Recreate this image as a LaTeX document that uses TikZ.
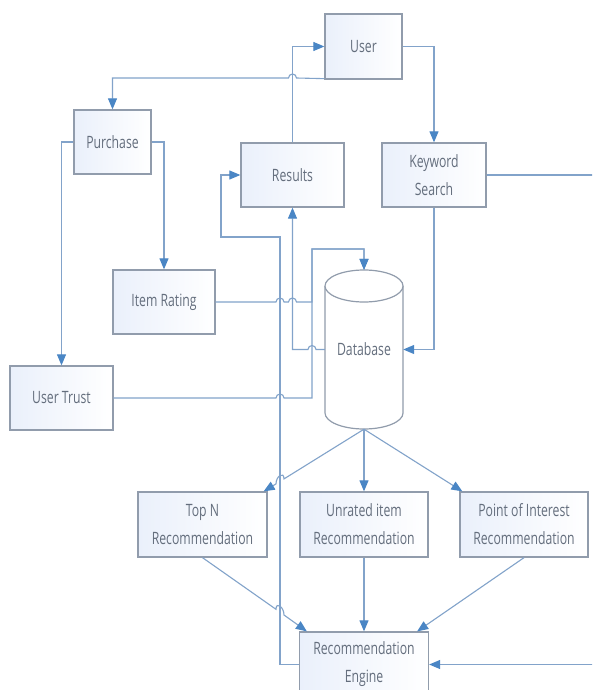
\documentclass[tikz,border=0pt]{standalone}
\usepackage{fontspec}
\setmainfont{Open Sans}[FakeStretch=0.72]
\usetikzlibrary{arrows.meta,calc}
\definecolor{linec}{RGB}{130,163,202}
\definecolor{tipc}{RGB}{74,134,197}
\definecolor{boxc}{RGB}{145,156,172}
\definecolor{txtc}{RGB}{100,110,125}
\definecolor{boxfill}{RGB}{234,240,251}
\begin{document}
\begin{tikzpicture}[x=1pt,y=-1pt,
  box/.style={draw=boxc, line width=1.3pt, left color=boxfill, right color=white,
    minimum height=64pt, inner sep=0pt, align=center, text=txtc,
    font=\fontsize{17}{28}\selectfont},
  conn/.style={draw=linec, line width=1.1pt, -{Triangle[length=11pt,width=9pt,color=tipc]}},
  plain/.style={draw=linec, line width=1.1pt}
]
\useasboundingbox (0,0) rectangle (592,690);
\clip (0,0) rectangle (592,690);
\fill[white] (0,0) rectangle (592,690);

% nodes
\node[box, minimum width=77pt, minimum height=65pt] (user) at (363.5,46.5) {User};
\node[box, minimum width=77pt] (purchase) at (112.5,142) {Purchase};
\node[box, minimum width=103pt] (results) at (292.5,175) {Results};
\node[box, minimum width=104pt] (kw) at (434,175) {Keyword\\Search};
\node[box, minimum width=102pt] (itemrating) at (164,302) {Item Rating};
\node[box, minimum width=103pt] (usertrust) at (61.5,398) {User Trust};
\node[box, minimum width=129pt, minimum height=65pt] (topn) at (202.5,524.5) {Top N\\Recommendation};
\node[box, minimum width=128pt, minimum height=65pt] (unrated) at (364,524.5) {Unrated item\\Recommendation};
\node[box, minimum width=128pt, minimum height=65pt] (poi) at (524,524.5) {Point of Interest\\Recommendation};
\node[box, minimum width=129pt, minimum height=65pt] (re) at (364,664.5) {Recommendation\\Engine};

% database cylinder
\draw[draw=boxc, line width=1.2pt, fill=white] (325,286) -- (325,413)
  arc[start angle=180, end angle=0, x radius=39, y radius=16] -- (403,286);
\draw[draw=boxc, line width=1.2pt, fill=white] (364,286) ellipse [x radius=39, y radius=16];
\node[minimum width=78pt, minimum height=159pt, inner sep=0pt, text=txtc,
  font=\fontsize{17}{28}\selectfont] (db) at (364,349.5) {Database};

% connectors
\path[conn] (results.north) |- (user.west);
\path[conn] ($(user.south west)+(0,-1)$) -- (296.5,78)
  arc[start angle=0, end angle=-180, radius=4] -- (112.5,78) -- (purchase.north);
\path[conn] (purchase.west) -| (usertrust.north);
\path[conn] (purchase.east) -| (itemrating.north);
\path[conn] (user.east) -| (kw.north);
\path[conn] (kw.south) |- (db.east);
\path[conn] (kw.east) -- (600,175) |- (re.east);
\path[conn] (re.west) -- (280,664.5) -- (280,237) -- (221,237) |- (results.west);
\path[conn] (db.west) -- (316,349.5) arc[start angle=0, end angle=-180, radius=4]
  -- (292.5,349.5) -- (results.south);
\path[conn] (itemrating.east) -- (276,302) arc[start angle=180, end angle=360, radius=4]
  -- (288.5,302) arc[start angle=180, end angle=360, radius=4]
  -- (312,302) -- (312,249) -| (db.north);
\path[conn] (usertrust.east) -- (276,398) arc[start angle=180, end angle=360, radius=4]
  -- (312,398) -- (312,249) -| (db.north);
\path[conn] (db.south) -- (284,478.9) .. controls (284,471) and (276,476) .. (276,483.9)
  -- ($(topn.north east)+(-4,0)$);
\path[conn] (db.south) -- (unrated.north);
\path[conn] (db.south) -- ($(poi.north west)+(3,0)$);
\path[conn] (topn.south) -- (276,609.3) .. controls (276,601) and (284,607) .. (284,615)
  -- ($(re.north west)+(8,0)$);
\path[conn] (unrated.south) -- (re.north);
\path[conn] (poi.south) -- ($(re.north east)+(-12,0)$);
\end{tikzpicture}
\end{document}
